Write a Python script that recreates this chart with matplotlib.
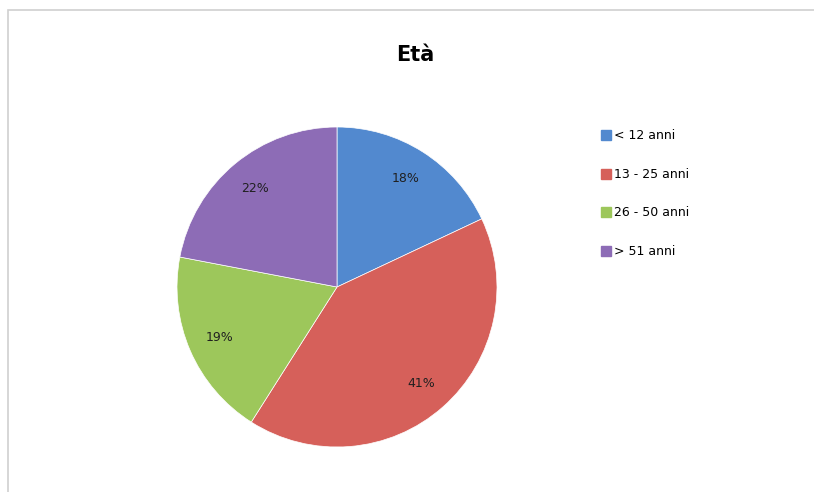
import matplotlib
matplotlib.use('Agg')
from matplotlib import pyplot as plt
from matplotlib.patches import Rectangle
from matplotlib.lines import Line2D

categories = ['< 12 anni', '13 - 25 anni', '26 - 50 anni', '> 51 anni']
values = [18, 41, 19, 22]
colors = ['#5289CF', '#D6605A', '#9DC75B', '#8D6CB6']

fig = plt.figure(figsize=(8.14, 4.92), dpi=100)
fig.patches.append(Rectangle((0.01, -0.05), 1.1, 1.03, transform=fig.transFigure,
                             fill=False, edgecolor='#d0d0d0', linewidth=1.2))

ax = fig.add_axes([177 / 814, 45 / 492, 320 / 814, 320 / 492])
wedges, texts, autotexts = ax.pie(
    values, colors=colors, startangle=90, counterclock=False,
    autopct='%d%%', pctdistance=0.8,
    wedgeprops=dict(edgecolor='white', linewidth=0.5))
for t in autotexts:
    t.set_fontsize(9)
    t.set_color('#202020')
ax.set_xlim(-1, 1)
ax.set_ylim(-1, 1)
ax.set_aspect('equal')

fig.text(415 / 814, 1 - 55 / 492, 'Età', ha='center', va='center',
         fontsize=15, fontweight='bold')

handles = [Line2D([], [], marker='s', linestyle='', markersize=7,
                  markerfacecolor=c, markeredgecolor=c) for c in colors]
fig.legend(handles, categories, loc='upper left',
           bbox_to_anchor=(588 / 814, 1 - 118 / 492), frameon=False,
           fontsize=9, labelspacing=2.05, handletextpad=0.2,
           handlelength=1.0)

fig.savefig('out.png', dpi=100)
